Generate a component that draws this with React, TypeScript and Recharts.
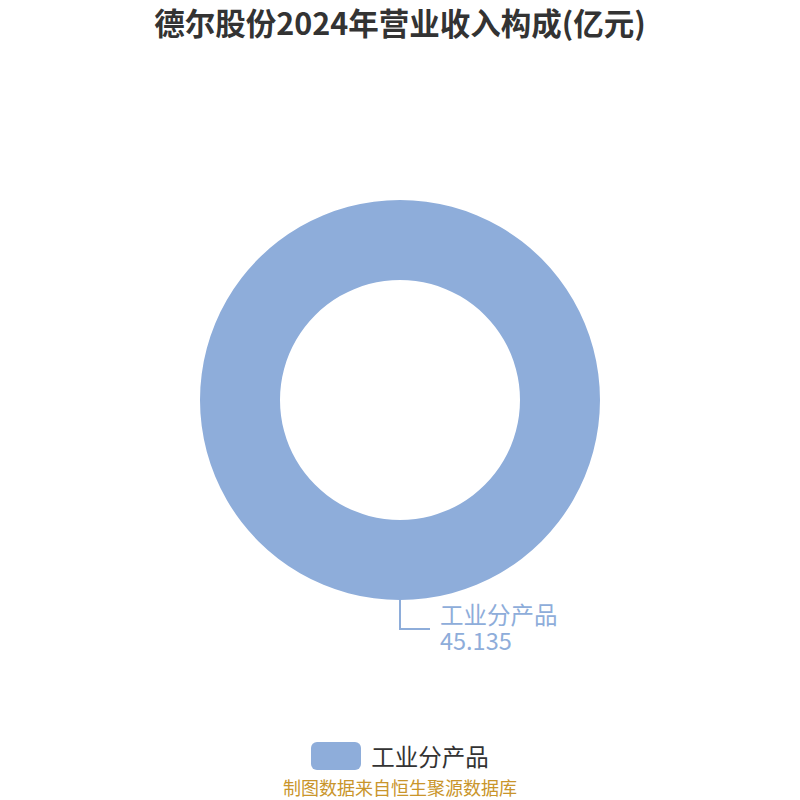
import React from "react";
import { Cell, Pie, PieChart } from "recharts";

const categories = ["工业分产品"];
const revenue = [45.135];

const title = "德尔股份2024年营业收入构成(亿元)";
const source = "制图数据来自恒生聚源数据库";
const palette = ["#8eadda"];
const font = "'Noto Sans CJK SC', 'Noto Sans', sans-serif";

const data = categories.map((name, i) => ({ name, value: revenue[i] }));

const RADIAN = Math.PI / 180;

function renderLabel(props: any) {
  const { cx, cy, midAngle, outerRadius, name, value, index } = props;
  const sin = Math.sin(-midAngle * RADIAN);
  const cos = Math.cos(-midAngle * RADIAN);
  const sx = cx + outerRadius * cos;
  const sy = cy + outerRadius * sin;
  const mx = cx + (outerRadius + 29) * cos;
  const my = cy + (outerRadius + 29) * sin;
  const ex = mx + 30;
  const color = palette[index % palette.length];
  return (
    <g>
      <polyline points={`${sx},${sy} ${mx},${my} ${ex},${my}`} fill="none" stroke={color} strokeWidth={2} />
      <text x={ex + 10} y={my - 15} fill={color} fontSize={23.5} fontFamily={font} dominantBaseline="central">
        {name}
      </text>
      <text x={ex + 10} y={my + 11} fill={color} fontSize={23.5} fontFamily={font} dominantBaseline="central">
        {value}
      </text>
    </g>
  );
}

export default function App() {
  return (
    <div
      style={{
        position: "fixed",
        top: 0,
        left: 0,
        width: 800,
        height: 800,
        overflow: "hidden",
        background: "#fff",
        fontFamily: font,
      }}
    >
      <div
        style={{
          position: "absolute",
          top: 0,
          left: 0,
          width: 800,
          textAlign: "center",
          fontSize: 30.5,
          fontWeight: "bold",
          color: "#333",
          lineHeight: "44px",
        }}
      >
        {title}
      </div>
      <PieChart width={800} height={800} margin={{ top: 0, right: 0, bottom: 0, left: 0 }}>
        <Pie
          data={data}
          dataKey="value"
          nameKey="name"
          cx={400}
          cy={400}
          innerRadius={120}
          outerRadius={200}
          startAngle={90}
          endAngle={-270}
          stroke="none"
          label={renderLabel}
          labelLine={false}
          isAnimationActive={false}
        >
          {data.map((_, idx) => (
            <Cell key={idx} fill={palette[idx % palette.length]} />
          ))}
        </Pie>
      </PieChart>
      <div
        style={{
          position: "absolute",
          top: 741,
          left: 0,
          width: 800,
          display: "flex",
          justifyContent: "center",
          alignItems: "center",
          height: 30,
        }}
      >
        {categories.map((name, i) => (
          <div key={name} style={{ display: "flex", alignItems: "center" }}>
            <div style={{ width: 50, height: 28, borderRadius: 6, background: palette[i % palette.length], marginRight: 10 }} />
            <span style={{ fontSize: 23.5, color: "#333" }}>{name}</span>
          </div>
        ))}
      </div>
      <div
        style={{
          position: "absolute",
          top: 777,
          left: 0,
          width: 800,
          textAlign: "center",
          fontSize: 18,
          color: "#c9952b",
          lineHeight: "20px",
        }}
      >
        {source}
      </div>
    </div>
  );
}
